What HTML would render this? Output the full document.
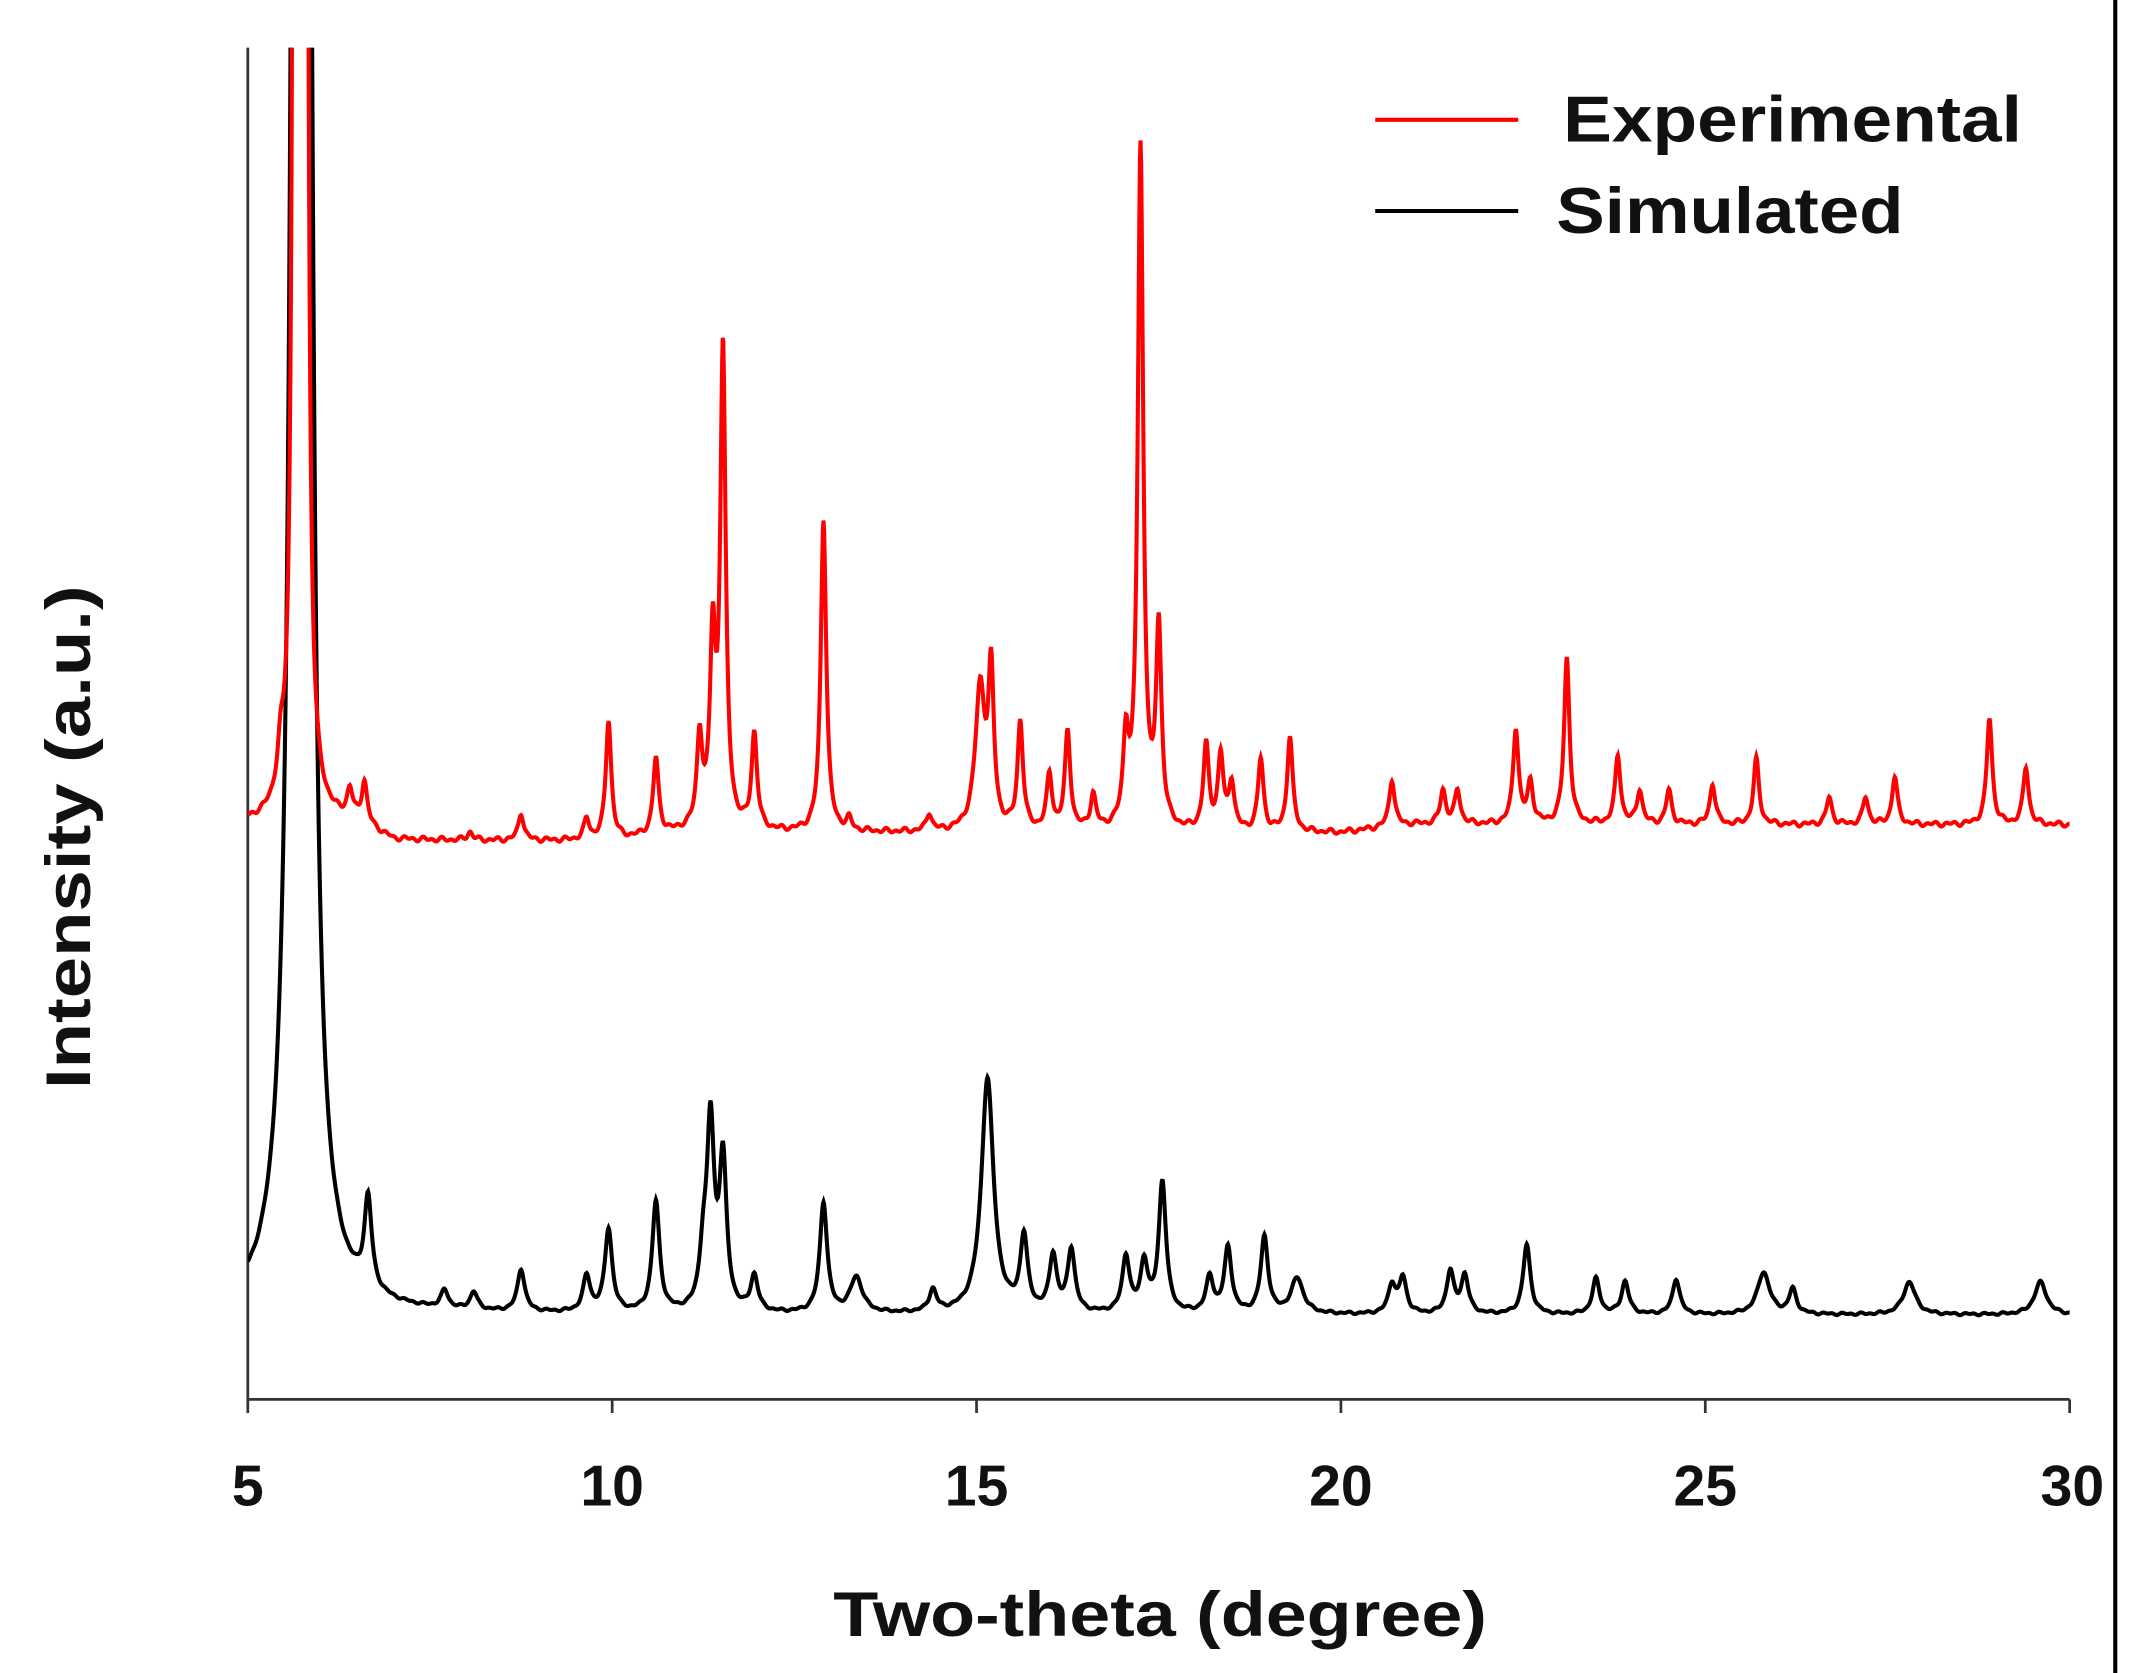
<!DOCTYPE html>
<html><head><meta charset="utf-8"><style>
html,body{margin:0;padding:0;background:#fff;}
svg{display:block;}
text{font-family:"Liberation Sans",Arial,sans-serif;font-weight:bold;fill:#111;}
</style></head><body>
<svg id="s" width="2135" height="1673" viewBox="0 0 1568 1229" preserveAspectRatio="none" xmlns="http://www.w3.org/2000/svg">
<rect width="1568" height="1229" fill="#fff"/>
<defs><clipPath id="c"><rect x="182" y="35" width="1345" height="1000"/></clipPath></defs>
<line x1="1553.5" y1="0" x2="1553.5" y2="1229" stroke="#000" stroke-width="3"/>
<line x1="182" y1="35" x2="182" y2="1029" stroke="#333" stroke-width="2"/>
<line x1="181" y1="1028" x2="1520" y2="1028" stroke="#333" stroke-width="2"/>
<g stroke="#333" stroke-width="2">
<line x1="182" y1="1028" x2="182" y2="1038"/><line x1="449.6" y1="1028" x2="449.6" y2="1038"/>
<line x1="717.2" y1="1028" x2="717.2" y2="1038"/><line x1="984.8" y1="1028" x2="984.8" y2="1038"/>
<line x1="1252.4" y1="1028" x2="1252.4" y2="1038"/><line x1="1520" y1="1028" x2="1520" y2="1038"/>
</g>
<g font-size="42" text-anchor="middle">
<text x="182" y="1106">5</text><text x="449.6" y="1106">10</text><text x="717.2" y="1106">15</text>
<text x="984.8" y="1106">20</text><text x="1252.4" y="1106">25</text><text x="1522" y="1106">30</text>
</g>
<text x="612" y="1202" font-size="46" textLength="480" lengthAdjust="spacingAndGlyphs">Two-theta (degree)</text>
<text transform="translate(66,800) rotate(-90)" font-size="46" textLength="370" lengthAdjust="spacingAndGlyphs">Intensity (a.u.)</text>
<line x1="1010" y1="88" x2="1115" y2="88" stroke="#f00" stroke-width="3"/>
<line x1="1010" y1="155" x2="1115" y2="155" stroke="#000" stroke-width="3"/>
<text x="1148" y="104" font-size="48" textLength="337" lengthAdjust="spacingAndGlyphs">Experimental</text>
<text x="1143" y="171" font-size="48" textLength="255" lengthAdjust="spacingAndGlyphs">Simulated</text>
<g clip-path="url(#c)">
<path id="sim" fill="none" stroke="#000" stroke-width="3"/>
<path id="exp" fill="none" stroke="#f00" stroke-width="3"/>
</g>
</svg>
<script>
function X(d){return 182+(d-5)*53.52;}
function build(base,peaks,w,noise,baseFn){
  var s="";
  for(var i=0;i<=3000;i++){
    var d=5+25*i/3000, y=baseFn(d);
    for(var k=0;k<peaks.length;k++){
      var p=peaks[k], ww=p[2]||w, t=(d-p[0])/ww;
      y-=(base-p[1])/(1+t*t);
    }
    y+=noise*Math.sin(d*37.1)*Math.sin(d*11.3);
    s+=(i?"L":"M")+X(d).toFixed(2)+","+y.toFixed(2);
  }
  return s;
}
var ep=[[5.66,-3000,0.022],[5.78,-3000,0.022],[5.45,585,0.05],[6.4,592],[6.6,582],[8.05,606],[8.75,592],[9.65,597],[9.95,524],[10.6,556],[11.2,546],[11.38,480],[11.52,262],[11.95,542],[12.9,382],[13.25,604],[14.35,599],[15.05,508,0.08],[15.2,502],[15.6,533],[16.0,572],[16.25,540],[16.6,587],[17.05,550],[17.25,112],[17.5,467],[18.15,550],[18.35,558],[18.5,577],[18.9,559],[19.3,542],[20.7,577],[21.4,587],[21.6,587],[22.4,542],[22.6,582],[23.1,490],[23.8,562],[24.1,587],[24.5,587],[25.1,582],[25.7,564],[26.7,592],[27.2,592],[27.6,577],[28.9,534],[29.4,570]];
var sp=[[5.72,-5000,0.057],[5.85,600,0.06],[6.65,900],[7.7,953],[8.1,953],[8.75,935],[9.65,940],[9.95,905],[10.6,885],[11.25,930],[11.35,832],[11.52,857],[11.95,940],[12.9,885],[13.35,940,0.1],[14.4,950],[15.15,793,0.1],[15.65,912],[16.05,925],[16.3,920],[17.05,925],[17.3,930],[17.55,870],[18.2,940],[18.45,918],[18.95,910],[19.4,940,0.1],[20.7,945],[20.85,940],[21.5,935],[21.7,938],[22.55,915],[23.5,940],[23.9,942],[24.6,940],[25.8,935,0.1],[26.2,948],[27.8,942,0.1],[29.6,942,0.1]];
document.getElementById("exp").setAttribute("d",build(612,ep,0.045,2,function(d){
  if(d<6.5)return 606; if(d<7)return 606+12*(d-6.5)*2; if(d<10)return 618; if(d<11)return 618-6*(d-10); if(d<20)return 612; if(d<21)return 612-6*(d-20); return 606;}));
document.getElementById("sim").setAttribute("d",build(966,sp,0.06,1,function(d){return 966;}));
</script>
</body></html>
